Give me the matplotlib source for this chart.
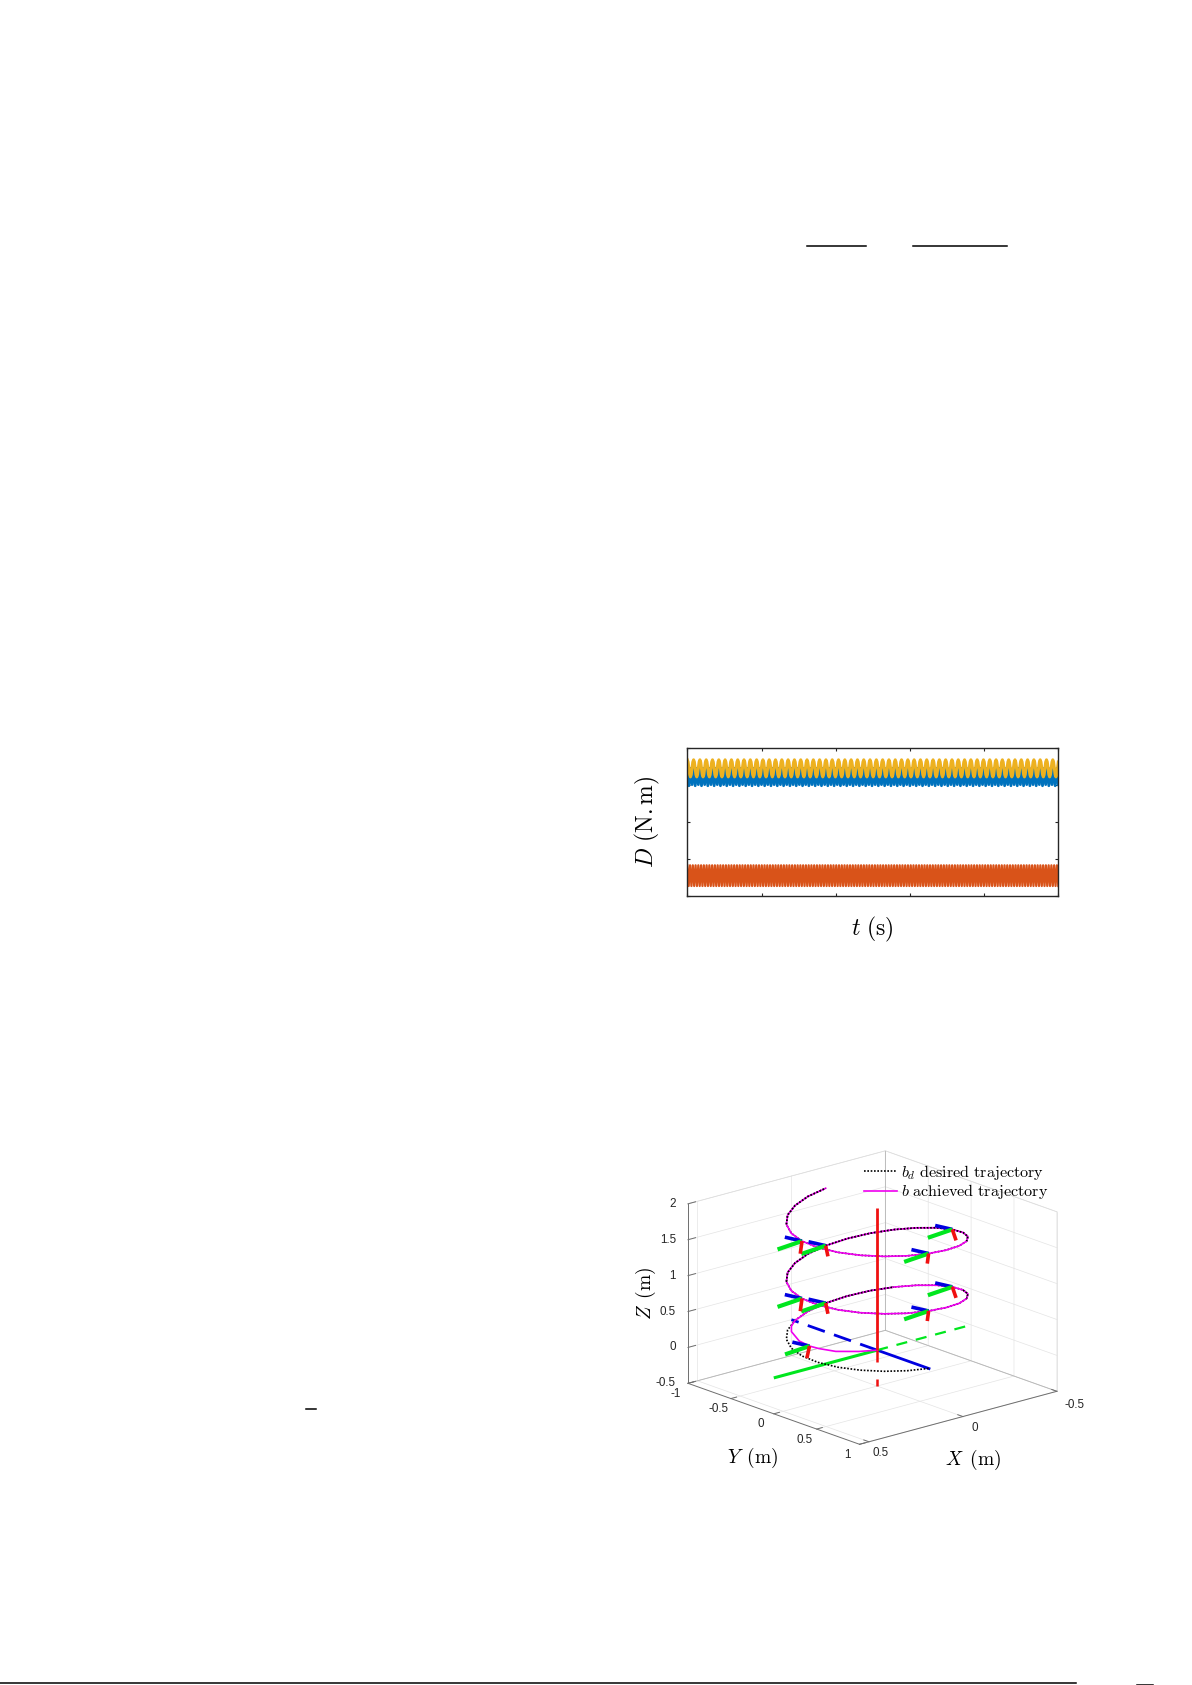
import numpy as np
import matplotlib
matplotlib.use("Agg")
import matplotlib.pyplot as plt
from matplotlib.lines import Line2D

W, H = 1192, 1685
plt.rcParams['mathtext.fontset'] = 'cm'
plt.rcParams['font.family'] = ['Liberation Sans', 'DejaVu Sans']

# disturbance plot: one period of each signal
yellow_cycle = [1.68, 1.62, 1.45, 1.28, 1.22, 1.28, 1.45, 1.62]
blue_cycle = [1.50, 0.98, 1.45, 1.01]
orange_cycle = [-1.17, -1.73]
yellow_periods = 59
blue_periods = 59
orange_periods = 135
d_xticks = [0, 2, 4, 6, 8, 10]
d_yticks = [-2, -1, 0, 1, 2]

# desired helix, every 15 degrees
bd_x = [0, .104, .2, .283, .346, .386, .4, .386, .346, .283, .2, .104,
        0, -.104, -.2, -.283, -.346, -.386, -.4, -.386, -.346, -.283, -.2, -.104,
        0, .104, .2, .283, .346, .386, .4, .386, .346, .283, .2, .104,
        0, -.104, -.2, -.283, -.346, -.386, -.4, -.386, -.346, -.283, -.2, -.104,
        0, .104, .2, .283, .346, .386, .4, .386, .346, .283, .2, .104, 0]
bd_y = [.6, .58, .52, .424, .3, .155, 0, -.155, -.3, -.424, -.52, -.58,
        -.6, -.58, -.52, -.424, -.3, -.155, 0, .155, .3, .424, .52, .58,
        .6, .58, .52, .424, .3, .155, 0, -.155, -.3, -.424, -.52, -.58,
        -.6, -.58, -.52, -.424, -.3, -.155, 0, .155, .3, .424, .52, .58,
        .6, .58, .52, .424, .3, .155, 0, -.155, -.3, -.424, -.52, -.58, -.6]
bd_z = [0, .033, .067, .1, .133, .167, .2, .233, .267, .3, .333, .367,
        .4, .433, .467, .5, .533, .567, .6, .633, .667, .7, .733, .767,
        .8, .833, .867, .9, .933, .967, 1, 1.033, 1.067, 1.1, 1.133, 1.167,
        1.2, 1.233, 1.267, 1.3, 1.333, 1.367, 1.4, 1.433, 1.467, 1.5, 1.533, 1.567,
        1.6, 1.633, 1.667, 1.7, 1.733, 1.767, 1.8, 1.833, 1.867, 1.9, 1.933, 1.967, 2]

# achieved trajectory: start from the origin, then on the helix
b_start_x = [0, .097, .22, .31, .36, .36, .31, .26, .2]
b_start_y = [0, 0, 0, 0, 0, -.12, -.32, -.43, -.52]
b_start_z = [0, .05, .137, .24, .31, .33, .34, .335, .333]
join = 11
b_x = b_start_x + bd_x[join:]
b_y = b_start_y + bd_y[join:]
b_z = b_start_z + bd_z[join:]
black_over = [(12, 15), (19, 21), (32, 45), (56, 60)]

# body frames along the trajectory
fr_x = [.36, 0, -.4, 0, .4, 0, -.4, 0, .4]
fr_y = [0, -.6, 0, .6, 0, -.6, 0, .6, 0]
fr_z = [.31, .4, .6, .8, 1, 1.2, 1.4, 1.6, 1.8]
red_dx = [.014, -.012, -.02, .007, .009, -.012, -.02, .007, .009]
red_dz = [-.16, -.157, -.167, -.135, -.17, -.157, -.167, -.135, -.17]
green_tip = (.13, 0, -.025)
blue_tip = (0, -.2, -.03)

x_ticks = [-.5, 0, .5]
y_ticks = [-1, -.5, 0, .5, 1]
z_ticks = [-.5, 0, .5, 1, 1.5, 2]
x_tick_labels = ['-0.5', '0', '0.5']
x_label_gap = [.2, .14, .14]
y_tick_labels = ['-1', '-0.5', '0', '0.5', '1']
z_tick_labels = ['-0.5', '0', '0.5', '1', '1.5', '2']
x0, x1 = -.5, .55
y0, y1 = -1, 1
z0, z1 = -.5, 2

# rules left over on the page, in pixels
page_rules = [(807, 866, 246), (913, 1007, 246), (306, 316, 1409), (0, 1076, 1683), (1137, 1153, 1685)]


def fx(px):
    return px / W


def fy(py):
    return 1 - py / H


fig = plt.figure(figsize=(W / 100, H / 100), dpi=100)
fig.patch.set_facecolor('white')

for a, b, y in page_rules:
    fig.add_artist(Line2D([fx(a), fx(b)], [fy(y), fy(y)], color='black', lw=1.1))

# ---- 2D plot
ax = fig.add_axes([fx(687.3), fy(896), fx(371), 148 / H])
for cyc, n, c, lw in [(blue_cycle, blue_periods, '#0072BD', 2.0),
                      (orange_cycle, orange_periods, '#D95319', 1.6),
                      (yellow_cycle, yellow_periods, '#EDB120', 2.2)]:
    v = np.tile(cyc, n)
    ax.plot(np.linspace(0, 10, len(v)), v, color=c, lw=lw)
ax.set_xlim(0, 10)
ax.set_ylim(-2, 2)
ax.set_xticks(d_xticks)
ax.set_yticks(d_yticks)
ax.tick_params(direction='in', top=True, right=True, length=2.5, width=0.8,
               labelbottom=False, labelleft=False, color='#262626')
for s in ax.spines.values():
    s.set_linewidth(1.0)
    s.set_color('#262626')
fig.text(fx(647), fy(822), r'$D\ (\mathrm{N{.}m})$', fontsize=17, rotation=90, ha='center', va='center')
fig.text(fx(872), fy(929), r'$t\ (\mathrm{s})$', fontsize=17, ha='center', va='center')

# ---- 3D plot
S = 403
ax3 = fig.add_axes([fx(867 - S / 2), fy(1303 + S / 2), S / W, S / H], projection='3d',
                   proj_type='ortho', computed_zorder=False)
ax3.set_axis_off()
ax3.view_init(elev=18, azim=49)
ax3.set_box_aspect((1, 1, .722))


def line3(xs, ys, zs, **kw):
    ax3.plot(xs, ys, zs, **kw)


grid = dict(color='#e4e4e4', lw=0.5, zorder=1)
for t in z_ticks:
    line3([x1, x0, x0], [y0, y0, y1], [t, t, t], **grid)
for t in x_ticks:
    line3([t, t, t], [y1, y0, y0], [z0, z0, z1], **grid)
for t in y_ticks:
    line3([x1, x0, x0], [t, t, t], [z0, z0, z1], **grid)
line3([x1, x0, x0], [y0, y0, y1], [z1, z1, z1], color='#dddddd', lw=0.5, zorder=1)
line3([x1, x0, x0], [y0, y0, y1], [z0, z0, z0], color='#b5b5b5', lw=0.6, zorder=1.5)
line3([x0, x0], [y0, y0], [z0, z1], color='#b5b5b5', lw=0.6, zorder=1.5)
line3([x0, x0], [y1, y1], [z0, z1], color='#dddddd', lw=0.5, zorder=1)

axc = dict(color='#6e6e6e', lw=0.7, zorder=2)
tick_size = 8.4
line3([x1, x1], [y0, y0], [z0, z1], **axc)
line3([x1, x1], [y0, y1], [z0, z0], **axc)
line3([x0, x1], [y1, y1], [z0, z0], **axc)
for t, lab in zip(z_ticks, z_tick_labels):
    line3([x1, x1 - .04], [y0, y0], [t, t], **axc)
    ax3.text(x1 + .065, y0, t + .045, lab, ha='right', va='center', fontsize=tick_size, color='#262626')
for t, lab in zip(y_ticks, y_tick_labels):
    line3([x1, x1 - .03], [t, t], [z0, z0], **axc)
    ax3.text(x1 + .067, t, z0 - .1, lab, ha='center', va='center', fontsize=tick_size, color='#262626')
for t, lab, gap in zip(x_ticks, x_tick_labels, x_label_gap):
    line3([t, t], [y1, y1 - .06], [z0, z0], **axc)
    ax3.text(t, y1 + gap, z0 - .1, lab, ha='center', va='center', fontsize=tick_size, color='#262626')

# big frame at the origin
green, blue, red = '#00E61E', '#0000E0', '#F01010'
line3([0, .55], [0, 0], [0, 0], color=green, lw=2.2, zorder=3, solid_capstyle='butt')
line3([0, 0], [0, .62], [0, 0], color=blue, lw=2.0, zorder=3, solid_capstyle='butt')
line3([0, -.5], [0, 0], [0, 0], color=green, lw=1.6, zorder=3, ls=(0, (5, 4)))
line3([0, 0], [0, -1], [0, 0], color=blue, lw=2.0, zorder=3, ls=(0, (6.5, 3.5)))
line3([0, 0], [0, 0], [0, -.5], color=red, lw=1.8, zorder=3, ls=(0, (4.8, 6.8)))

# trajectories
pink, = ax3.plot(b_x, b_y, b_z, color='#F000F0', lw=1.2, zorder=5)
dots, = ax3.plot(bd_x, bd_y, bd_z, color='black', lw=1.2, ls=(0, (1, 1)), zorder=4)
for i0, i1 in black_over:
    ax3.plot(bd_x[i0:i1 + 1], bd_y[i0:i1 + 1], bd_z[i0:i1 + 1], color='black', lw=1.2,
             ls=(0, (1, 1)), zorder=6)
line3([0, 0], [0, 0], [0, 1.98], color=red, lw=2.0, zorder=7, solid_capstyle='butt')

for i in range(len(fr_x)):
    px, py, pz = fr_x[i], fr_y[i], fr_z[i]
    line3([px, px + blue_tip[0]], [py, py + blue_tip[1]], [pz, pz + blue_tip[2]],
          color=blue, lw=2.6, zorder=8, solid_capstyle='butt')
    line3([px, px + green_tip[0]], [py, py + green_tip[1]], [pz, pz + green_tip[2]],
          color=green, lw=3.0, zorder=8, solid_capstyle='butt')
    line3([px, px + red_dx[i]], [py, py], [pz, pz + red_dz[i]],
          color=red, lw=2.6, zorder=8, solid_capstyle='butt')

ax3.set_xlim(x0, x1, view_margin=0)
ax3.set_ylim(y0, y1, view_margin=0)
ax3.set_zlim(z0, z1, view_margin=0)

fig.legend([dots, pink], [r'$b_d\ \mathrm{desired\ trajectory}$', r'$b\ \mathrm{achieved\ trajectory}$'],
           loc='upper left', bbox_to_anchor=(fx(864), fy(1163)), frameon=False, fontsize=11.6,
           handlelength=2.05, handletextpad=0.25, labelspacing=0.02, borderpad=0, borderaxespad=0)

fig.text(fx(646), fy(1293), r'$Z\ \,(\mathrm{m})$', fontsize=14, rotation=90, ha='center', va='center')
fig.text(fx(753), fy(1458), r'$Y\ \,(\mathrm{m})$', fontsize=14, ha='center', va='center')
fig.text(fx(973), fy(1460), r'$X\ \,(\mathrm{m})$', fontsize=14, ha='center', va='center')

fig.savefig('out.png', dpi=100, facecolor='white')
